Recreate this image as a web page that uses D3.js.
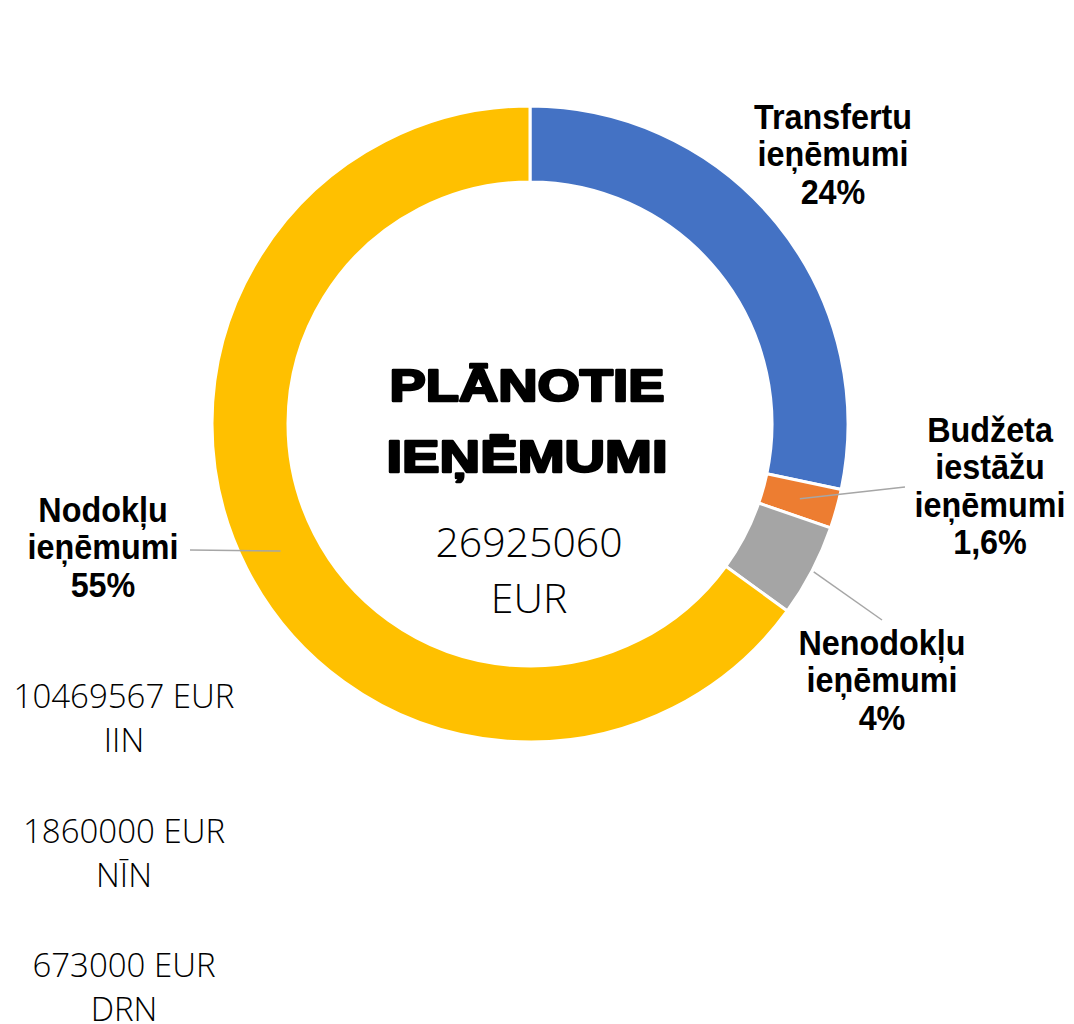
<!DOCTYPE html>
<html>
<head>
<meta charset="utf-8">
<script src="https://cdn.jsdelivr.net/npm/d3@7"></script>
<style>
  body { margin: 0; background: #fff; }
  svg { display: block; }
</style>
</head>
<body>
<svg id="chart" width="1074" height="1024"></svg>
<script>
// Slice shares (degrees of arc -> %)
const categories = ['Transfertu ieņēmumi', 'Budžeta iestāžu ieņēmumi', 'Nenodokļu ieņēmumi', 'Nodokļu ieņēmumi'];
const sliceShares = [28.3, 2.0, 4.7, 65.0];
const labelPercents = ['24%', '1,6%', '4%', '55%'];
const colors = ['#4472C4', '#ED7D31', '#A5A5A5', '#FFC000'];

const titleLines = ['PLĀNOTIE', 'IEŅĒMUMI'];
const totalLines = ['26925060', 'EUR'];
const taxNotes = [
  ['10469567 EUR', 'IIN'],
  ['1860000 EUR', 'NĪN'],
  ['673000 EUR', 'DRN']
];

// label placement (x = centre of text block, y = first baseline), leader line
const labelLayout = [
  { x: 833, y: 129, leader: null },
  { x: 990, y: 442, leader: { r: 280, end: [905, 487] } },
  { x: 882, y: 655, leader: { r: 320, end: [882, 620] } },
  { x: 103, y: 522, leader: { r: 280, end: [190, 550] } }
];

const svg = d3.select('#chart');
const cx = 530;
const cy = 424;
const outerR = 318;
const innerR = 242;
const lineH = 37.5;

const pie = d3.pie().sort(null).value(d => d.value);
const arcs = pie(categories.map((name, i) => ({ name, value: sliceShares[i], i })));
const arc = d3.arc().innerRadius(innerR).outerRadius(outerR);

const ring = svg.append('g').attr('transform', `translate(${cx},${cy})`);

ring.selectAll('path')
  .data(arcs)
  .join('path')
    .attr('d', arc)
    .attr('fill', d => colors[d.data.i])
    .attr('stroke', '#fff')
    .attr('stroke-width', 3);

// leader lines from slice middle out to the labels
ring.selectAll('line')
  .data(arcs.filter(d => labelLayout[d.data.i].leader))
  .join('line')
    .attr('x1', d => {
      const a = (d.startAngle + d.endAngle) / 2;
      return Math.sin(a) * labelLayout[d.data.i].leader.r;
    })
    .attr('y1', d => {
      const a = (d.startAngle + d.endAngle) / 2;
      return -Math.cos(a) * labelLayout[d.data.i].leader.r;
    })
    .attr('x2', d => labelLayout[d.data.i].leader.end[0] - cx)
    .attr('y2', d => labelLayout[d.data.i].leader.end[1] - cy)
    .attr('stroke', '#a6a6a6')
    .attr('stroke-width', 1.5);

// slice labels
const labels = svg.append('g')
  .selectAll('text')
  .data(arcs)
  .join('text')
    .attr('transform', d => `translate(${labelLayout[d.data.i].x},${labelLayout[d.data.i].y}) scale(0.98,1.06)`)
    .attr('text-anchor', 'middle')
    .style('font-family', '"Liberation Sans", Arial, sans-serif')
    .style('font-weight', 'bold')
    .style('font-size', '33px')
    .attr('fill', '#000');

labels.selectAll('tspan')
  .data(d => d.data.name.split(' ').concat(labelPercents[d.data.i]))
  .join('tspan')
    .attr('x', 0)
    .attr('y', (d, i) => i * lineH / 1.06)
    .text(d => d);

// centre title
svg.append('g')
  .selectAll('text')
  .data(titleLines)
  .join('text')
    .attr('x', 527)
    .attr('y', (d, i) => 401 + i * 71)
    .attr('text-anchor', 'middle')
    .attr('textLength', (d, i) => i ? 281 : 275)
    .attr('lengthAdjust', 'spacingAndGlyphs')
    .style('font-family', '"Liberation Sans", Arial, sans-serif')
    .style('font-weight', '900')
    .style('font-size', '45px')
    .attr('fill', '#000')
    .attr('stroke', '#000')
    .attr('stroke-width', 2.4)
    .attr('stroke-linejoin', 'round')
    .text(d => d);

svg.append('g')
  .selectAll('text')
  .data(totalLines)
  .join('text')
    .attr('x', 529)
    .attr('y', (d, i) => 557 + i * 56)
    .attr('text-anchor', 'middle')
    .style('font-family', '"Open Sans", sans-serif')
    .style('font-weight', '300')
    .style('font-size', '41px')
    .attr('fill', '#000')
    .text(d => d);

// tax breakdown notes, bottom left
const notes = svg.append('g')
  .selectAll('text')
  .data(taxNotes)
  .join('text')
    .attr('x', 124)
    .attr('y', (d, i) => 708 + i * 134.5)
    .attr('text-anchor', 'middle')
    .style('font-family', '"Open Sans", sans-serif')
    .style('font-weight', '300')
    .style('font-size', '33px')
    .attr('fill', '#000');

notes.selectAll('tspan')
  .data(d => d)
  .join('tspan')
    .attr('x', 124)
    .attr('dy', (d, i) => i ? 44 : 0)
    .text(d => d);
</script>
</body>
</html>
